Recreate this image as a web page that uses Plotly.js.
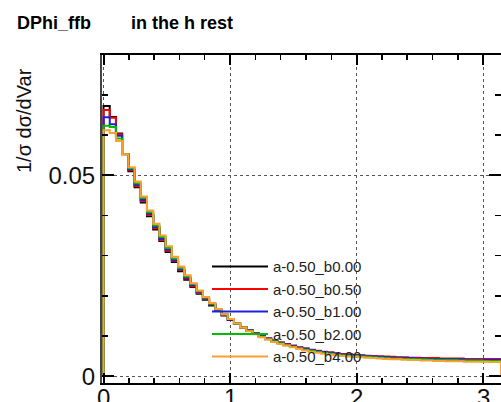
<!DOCTYPE html>
<html>
<head>
<meta charset="utf-8">
<script src="https://cdn.plot.ly/plotly-3.0.1.min.js"></script>
<style>html,body{margin:0;padding:0;background:#fff;}#chart{width:501px;height:402px;}</style>
</head>
<body>
<div id="chart"></div>
<script>
// 64 bins over [0, pi]
var nBins = 64;
var xMax = Math.PI;
var seriesNames = ["a-0.50_b0.00", "a-0.50_b0.50", "a-0.50_b1.00", "a-0.50_b2.00", "a-0.50_b4.00"];
var seriesColors = ["#000000", "#ff0000", "#1f1fe0", "#00bb00", "#ff9f30"];

var b000 = [0.0672,0.0645,0.0604,0.0552,0.0510,0.0470,0.0432,0.0398,0.0365,0.0336,
 0.0309,0.0284,0.0261,0.0240,0.0222,0.0205,0.0190,0.0176,0.0163,0.0151,
 0.0140,0.0130,0.0121,0.0113,0.0106,0.0099,0.0093,0.0088,0.0083,0.0079,
 0.0075,0.0071,0.0068,0.0065,0.0062,0.0060,0.0058,0.0056,0.0054,0.0053,
 0.0052,0.0051,0.0050,0.0049,0.0048,0.0047,0.0047,0.0046,0.0045,0.0045,
 0.0044,0.0044,0.0043,0.0043,0.0043,0.0042,0.0042,0.0042,0.0042,0.0041,
 0.0041,0.0041,0.0041,0.0041];
var b050 = [0.0662,0.0643,0.0602,0.0553,0.0512,0.0473,0.0435,0.0401,0.0368,0.0339,
 0.0312,0.0287,0.0264,0.0243,0.0224,0.0207,0.0192,0.0178,0.0164,0.0152,
 0.0141,0.0131,0.0122,0.0114,0.0107,0.0100,0.0094,0.0089,0.0084,0.0080,
 0.0076,0.0072,0.0069,0.0066,0.0063,0.0061,0.0059,0.0057,0.0055,0.0054,
 0.0053,0.0052,0.0051,0.0050,0.0049,0.0049,0.0048,0.0047,0.0047,0.0046,
 0.0046,0.0045,0.0045,0.0045,0.0044,0.0044,0.0044,0.0044,0.0043,0.0043,
 0.0043,0.0043,0.0043,0.0043];
var b100 = [0.0644,0.0627,0.0598,0.0553,0.0514,0.0476,0.0438,0.0404,0.0371,0.0342,
 0.0315,0.0289,0.0266,0.0245,0.0226,0.0209,0.0193,0.0179,0.0165,0.0153,
 0.0141,0.0131,0.0122,0.0114,0.0106,0.0100,0.0094,0.0088,0.0083,0.0079,
 0.0075,0.0071,0.0068,0.0065,0.0062,0.0060,0.0058,0.0056,0.0054,0.0053,
 0.0052,0.0051,0.0050,0.0049,0.0048,0.0047,0.0046,0.0046,0.0045,0.0045,
 0.0044,0.0044,0.0043,0.0043,0.0042,0.0042,0.0042,0.0042,0.0041,0.0041,
 0.0041,0.0041,0.0041,0.0041];
var b200 = [0.0623,0.0620,0.0591,0.0553,0.0517,0.0480,0.0443,0.0408,0.0375,0.0346,
 0.0319,0.0293,0.0269,0.0248,0.0229,0.0211,0.0195,0.0180,0.0166,0.0154,
 0.0142,0.0131,0.0122,0.0113,0.0105,0.0098,0.0092,0.0087,0.0082,0.0077,
 0.0073,0.0069,0.0066,0.0063,0.0060,0.0058,0.0056,0.0054,0.0052,0.0051,
 0.0050,0.0049,0.0048,0.0047,0.0046,0.0045,0.0044,0.0044,0.0043,0.0043,
 0.0042,0.0042,0.0041,0.0041,0.0040,0.0040,0.0040,0.0039,0.0039,0.0039,
 0.0039,0.0038,0.0038,0.0038];
var b400 = [0.0612,0.0605,0.0585,0.0552,0.0520,0.0484,0.0447,0.0412,0.0379,0.0350,
 0.0323,0.0297,0.0273,0.0251,0.0231,0.0213,0.0197,0.0182,0.0167,0.0154,
 0.0142,0.0131,0.0121,0.0112,0.0104,0.0097,0.0091,0.0085,0.0080,0.0076,
 0.0072,0.0068,0.0064,0.0061,0.0058,0.0056,0.0054,0.0052,0.0050,0.0049,
 0.0048,0.0047,0.0046,0.0045,0.0044,0.0043,0.0042,0.0042,0.0041,0.0040,
 0.0040,0.0039,0.0039,0.0038,0.0038,0.0037,0.0037,0.0037,0.0036,0.0036,
 0.0036,0.0036,0.0035,0.0035];
var allSeries = [b000, b050, b100, b200, b400];

var xTickVals = [0, 1, 2, 3];
var xTickText = ["0", "1", "2", "3"];
var yTickVals = [0, 0.05];
var yTickText = ["0", "0.05"];
var yTitle = "1/\u03c3 d\u03c3/dVar";

function histTrace(vals, name, color) {
  var xs = [0], ys = [0];
  for (var i = 0; i < vals.length; i++) {
    xs.push(i * xMax / nBins);
    ys.push(vals[i]);
  }
  xs.push(xMax); ys.push(vals[vals.length - 1]);
  xs.push(xMax); ys.push(0);
  return {
    type: 'scatter', mode: 'lines', x: xs, y: ys, name: name,
    line: {color: color, width: 2, shape: 'hv'},
    hoverinfo: 'skip'
  };
}

var data = [];
for (var k = 0; k < allSeries.length; k++) {
  data.push(histTrace(allSeries[k], seriesNames[k], seriesColors[k]));
}

var annotations = [{
  text: yTitle, textangle: -90,
  xref: 'paper', yref: 'paper',
  x: -78 / 399, y: (383 - 121) / 328,
  xanchor: 'center', yanchor: 'middle', showarrow: false,
  font: {size: 20, color: '#111'}
}];
for (var t = 0; t < xTickVals.length; t++) {
  annotations.push({
    text: xTickText[t], xref: 'x', yref: 'paper',
    x: xTickVals[t], y: 0, xanchor: 'center', yanchor: 'top',
    yshift: 0, showarrow: false, borderpad: 0,
    font: {size: 24, color: '#111'}
  });
}

var layout = {
  width: 501, height: 402,
  margin: {l: 102, r: 0, t: 55, b: 19, pad: 0},
  paper_bgcolor: '#ffffff', plot_bgcolor: '#ffffff',
  font: {family: 'Liberation Sans, Arial, sans-serif', color: '#000'},
  title: {
    text: '<b>DPhi_ffb\u00a0\u00a0\u00a0\u00a0\u00a0\u00a0\u00a0\u00a0in the h rest</b>',
    x: 17 / 501, xanchor: 'left', xref: 'container',
    y: 1 - 23 / 402, yanchor: 'middle', yref: 'container',
    font: {size: 18, color: '#000', family: 'Liberation Sans, Arial, sans-serif'}
  },
  xaxis: {
    range: [-0.012, xMax],
    tickmode: 'array', tickvals: xTickVals, ticktext: xTickText,
    showticklabels: false,
    ticks: 'inside', ticklen: 10, tickwidth: 2, tickcolor: '#000',
    minor: {dtick: 0.2, tick0: 0, ticks: 'inside', ticklen: 5, tickwidth: 1.5, tickcolor: '#000', showgrid: false},
    showline: true, linecolor: '#000', linewidth: 2, mirror: 'allticks',
    showgrid: true, gridcolor: '#555', gridwidth: 1, griddash: 'dot',
    zeroline: false,
    fixedrange: true
  },
  yaxis: {
    range: [-0.0017, 0.0799],
    tickmode: 'array', tickvals: yTickVals, ticktext: yTickText,
    ticks: 'inside', ticklen: 12, tickwidth: 2, tickcolor: '#000',
    minor: {dtick: 0.01, tick0: 0, ticks: 'inside', ticklen: 6, tickwidth: 1.5, tickcolor: '#000', showgrid: false},
    showline: true, linecolor: '#444', linewidth: 2, mirror: 'allticks',
    showgrid: true, gridcolor: '#555', gridwidth: 1, griddash: 'dot',
    zeroline: false,
    tickfont: {size: 24, color: '#111'},
    fixedrange: true
  },
  annotations: annotations,
  showlegend: true,
  legend: {
    x: (207 - 102) / 399, y: 0.405, xanchor: 'left', yanchor: 'top',
    bgcolor: 'rgba(0,0,0,0)', borderwidth: 0,
    font: {size: 15, color: '#222'},
    itemwidth: 56,
    tracegroupgap: 0
  }
};

Plotly.newPlot('chart', data, layout, {staticPlot: true, displayModeBar: false});
</script>
</body>
</html>
